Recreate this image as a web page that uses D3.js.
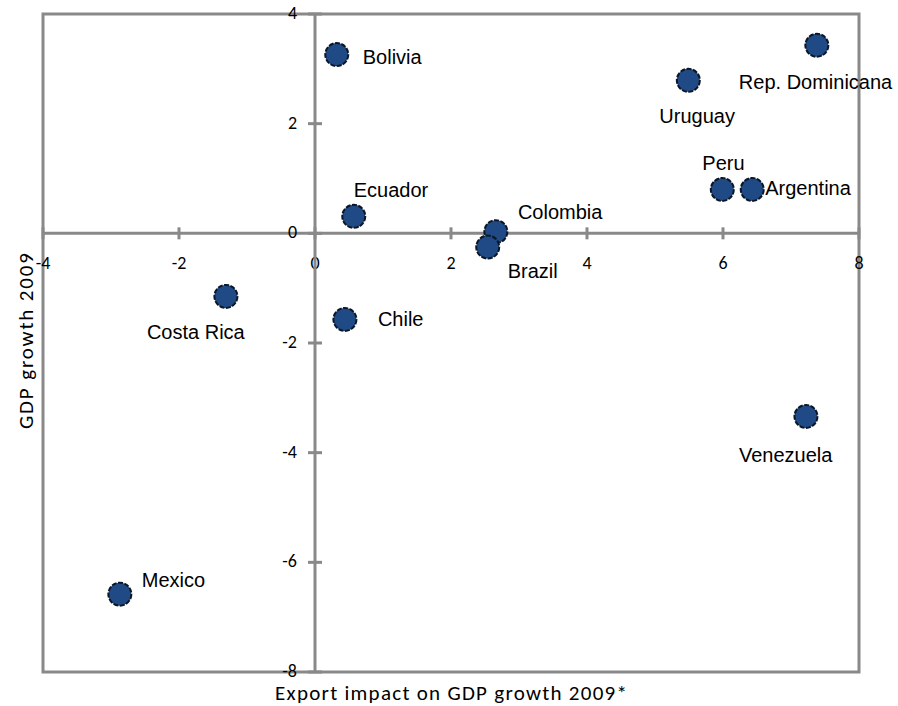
<!DOCTYPE html>
<html>
<head>
<meta charset="utf-8">
<script src="https://cdn.jsdelivr.net/npm/d3@7"></script>
<style>
  body { margin: 0; background: #fff; }
  .tick-lbl { font-family: Carlito, Calibri, Lato, sans-serif; font-size: 18px; fill: #000; }
  .pt-lbl { font-family: "Liberation Sans", Arial, sans-serif; font-size: 20px; fill: #000; }
  .ax-title { font-family: Carlito, Calibri, Lato, sans-serif; font-size: 21px; fill: #000; }
</style>
</head>
<body>
<svg id="chart" width="898" height="706"></svg>
<script>
// data
const countries = ["Bolivia", "Ecuador", "Colombia", "Brazil", "Uruguay", "Rep. Dominicana",
                   "Peru", "Argentina", "Costa Rica", "Chile", "Mexico", "Venezuela"];
const exportImpact = [0.32, 0.57, 2.66, 2.54, 5.49, 7.38, 5.99, 6.43, -1.31, 0.44, -2.87, 7.22];
const gdpGrowth = [3.26, 0.31, 0.03, -0.25, 2.79, 3.43, 0.80, 0.80, -1.15, -1.57, -6.58, -3.34];
const xTicks = [-4, -2, 0, 2, 4, 6, 8];
const yTicks = [-8, -6, -4, -2, 0, 2, 4];

// label placement relative to the dot (layout only)
const labelOffsets = {
  "Bolivia": [26, 9], "Ecuador": [0, -19], "Colombia": [22, -13], "Brazil": [20, 31],
  "Uruguay": [-29, 43], "Rep. Dominicana": [-78, 44], "Peru": [-20, -19],
  "Argentina": [13, 6], "Costa Rica": [-79, 43], "Chile": [33, 7],
  "Mexico": [22, -7], "Venezuela": [-67, 46]
};

const svg = d3.select("svg#chart");
const mLeft = 43, mRight = 859, mTop = 14, mBottom = 672;
const axisColor = "#898989";

const x = d3.scaleLinear().domain([-4, 8]).range([mLeft, mRight]);
const y = d3.scaleLinear().domain([-8, 4]).range([mBottom, mTop]);

// frame
svg.append("rect")
    .attr("x", mLeft).attr("y", mTop)
    .attr("width", mRight - mLeft).attr("height", mBottom - mTop)
    .attr("fill", "none")
    .attr("stroke", axisColor)
    .attr("stroke-width", 3);

// x axis through y = 0
const xAxis = svg.append("g").attr("transform", "translate(0," + y(0) + ")");
xAxis.append("line")
    .attr("x1", mLeft).attr("x2", mRight)
    .attr("stroke", axisColor).attr("stroke-width", 3);
xAxis.selectAll(".xt")
    .data(xTicks)
    .enter().append("line")
      .attr("x1", d => x(d)).attr("x2", d => x(d))
      .attr("y1", -6).attr("y2", 6)
      .attr("stroke", axisColor).attr("stroke-width", 3);
xAxis.selectAll(".xl")
    .data(xTicks)
    .enter().append("text")
      .attr("class", "tick-lbl")
      .attr("x", d => x(d))
      .attr("y", 36)
      .attr("text-anchor", "middle")
      .text(d => d);

// y axis through x = 0
const yAxis = svg.append("g").attr("transform", "translate(" + x(0) + ",0)");
yAxis.append("line")
    .attr("y1", mTop).attr("y2", mBottom)
    .attr("stroke", axisColor).attr("stroke-width", 3);
yAxis.selectAll(".yt")
    .data(yTicks)
    .enter().append("line")
      .attr("y1", d => y(d)).attr("y2", d => y(d))
      .attr("x1", -7).attr("x2", 7)
      .attr("stroke", axisColor).attr("stroke-width", 3);
yAxis.selectAll(".yl")
    .data(yTicks)
    .enter().append("text")
      .attr("class", "tick-lbl")
      .attr("x", -18)
      .attr("y", d => y(d) + 5)
      .attr("text-anchor", "end")
      .text(d => d);

// points
const pts = countries.map((c, i) => ({name: c, ex: exportImpact[i], gdp: gdpGrowth[i]}));

svg.append("g").selectAll("circle")
    .data(pts)
    .enter().append("circle")
      .attr("cx", d => x(d.ex))
      .attr("cy", d => y(d.gdp))
      .attr("r", 11.5)
      .attr("fill", "#1f4a85")
      .attr("stroke", "#0b1626")
      .attr("stroke-width", 2)
      .attr("stroke-dasharray", "5,1.5");

svg.append("g").selectAll("text")
    .data(pts)
    .enter().append("text")
      .attr("class", "pt-lbl")
      .attr("x", d => x(d.ex) + labelOffsets[d.name][0])
      .attr("y", d => y(d.gdp) + labelOffsets[d.name][1])
      .text(d => d.name);

// axis titles
svg.append("text")
    .attr("class", "ax-title")
    .attr("x", 451)
    .attr("y", 700)
    .attr("text-anchor", "middle")
    .attr("textLength", 352)
    .text("Export impact on GDP growth 2009*");

svg.append("text")
    .attr("class", "ax-title")
    .attr("transform", "translate(33,341) rotate(-90)")
    .attr("text-anchor", "middle")
    .attr("textLength", 176)
    .text("GDP growth 2009");
</script>
</body>
</html>
